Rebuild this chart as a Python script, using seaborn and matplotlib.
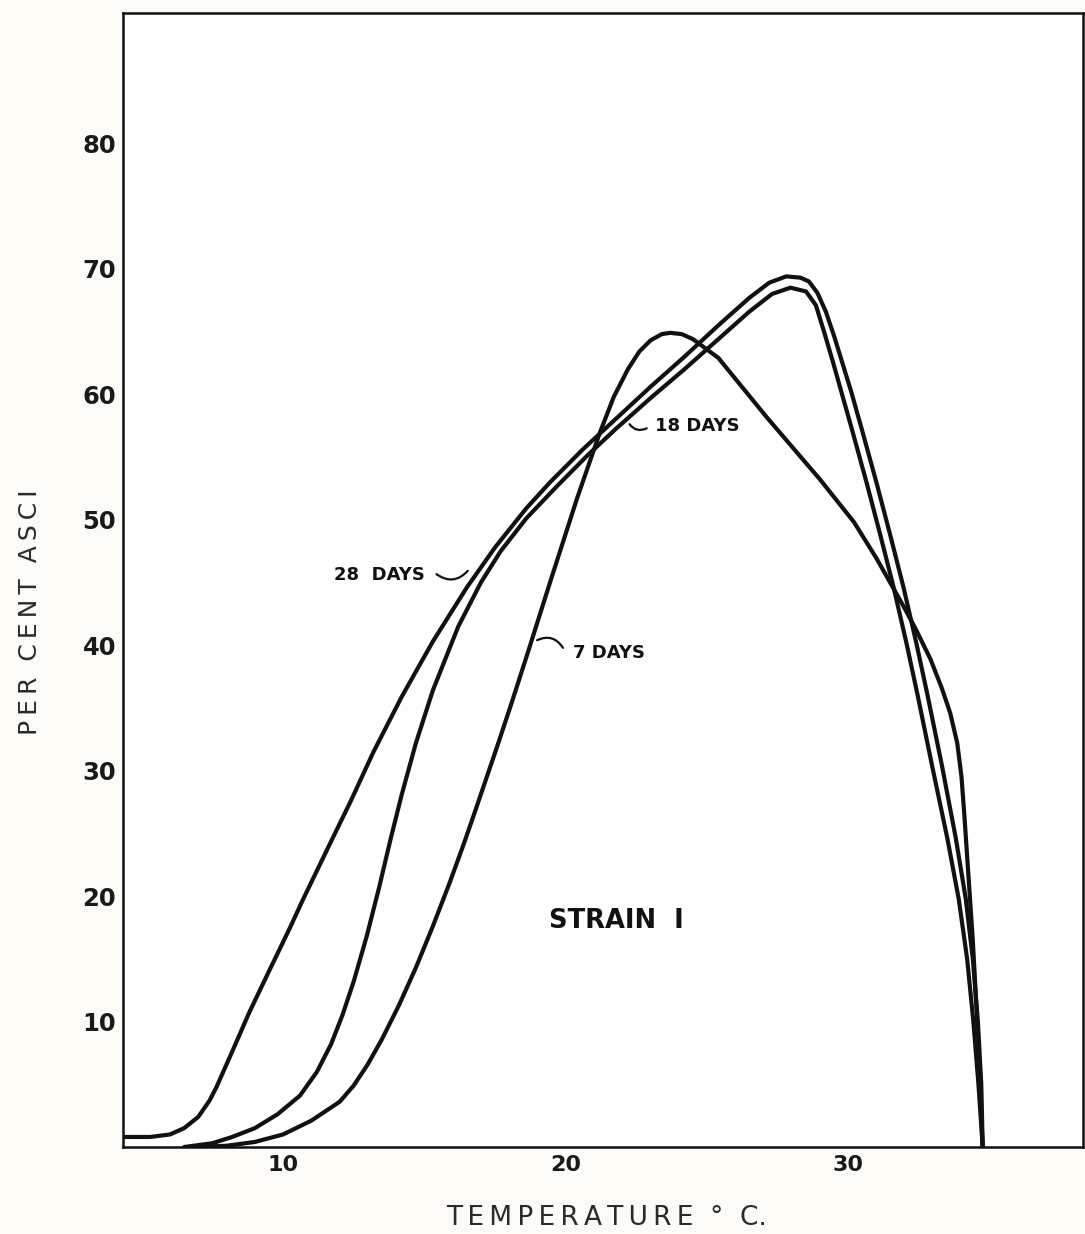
import matplotlib
matplotlib.use("Agg")
import matplotlib.pyplot as plt
import seaborn as sns
import pandas as pd

# ---- data (temperature °C, per cent asci) ----
temp_7 = [7.0, 8.0, 9.0, 10.0, 11.0, 12.0, 12.5, 13.0, 13.5, 14.1, 14.7, 15.3, 15.9, 16.4,
          16.8, 17.6, 18.1, 18.7, 19.5, 20.4, 21.2, 21.7, 22.2, 22.6, 23.0, 23.4, 23.7,
          24.1, 24.5, 25.4, 27.1, 29.0, 30.2, 31.0, 31.4, 31.95, 32.4, 32.9, 33.3, 33.6, 33.85,
          34.0, 34.1, 34.25, 34.4, 34.52, 34.63, 34.75]
pct_7 = [0.0, 0.1, 0.4, 1.0, 2.1, 3.6, 4.9, 6.6, 8.6, 11.3, 14.3, 17.6, 21.1, 24.2,
         26.8, 32.1, 35.5, 39.7, 45.4, 51.7, 56.9, 59.8, 62.0, 63.4, 64.3, 64.8, 64.9,
         64.8, 64.4, 62.9, 58.2, 53.2, 49.8, 46.9, 45.3, 43.1, 41.2, 38.9, 36.6, 34.6, 32.2,
         29.5, 26.5, 21.5, 16.5, 11.5, 6.5, 0.0]

temp_18 = [6.5, 7.5, 8.2, 9.0, 9.8, 10.6, 11.2, 11.7, 12.1, 12.5, 12.96, 13.4, 13.8, 14.2,
           14.7, 15.3, 16.2, 17.0, 17.7, 18.6, 19.7, 20.8, 21.8, 23.0, 24.2, 25.4, 26.5,
           27.3, 27.95, 28.5, 28.85, 29.15, 29.45, 29.75, 30.15, 30.65, 31.15, 31.6, 32.05,
           32.45, 32.95, 33.5, 33.9, 34.2, 34.42, 34.6, 34.75]
pct_18 = [0.0, 0.3, 0.8, 1.5, 2.6, 4.1, 6.0, 8.2, 10.5, 13.2, 16.8, 20.7, 24.5, 28.1,
          32.2, 36.4, 41.5, 45.0, 47.5, 50.1, 52.7, 55.2, 57.3, 59.7, 62.0, 64.4, 66.6,
          68.0, 68.5, 68.2, 67.1, 64.9, 62.6, 60.2, 57.0, 52.9, 48.6, 44.6, 40.2,
          36.0, 30.5, 24.6, 19.8, 15.0, 10.0, 5.0, 0.0]

temp_28 = [4.34, 5.3, 6.0, 6.5, 7.0, 7.4, 7.65, 8.2, 8.8, 9.5, 10.25, 10.7, 11.6, 12.4,
           13.2, 14.2, 15.3, 16.5, 17.5, 18.6, 19.45, 20.6, 21.8, 23.0, 24.2, 25.4, 26.5,
           27.2, 27.8, 28.3, 28.6, 28.9, 29.2, 29.5, 30.1, 30.5, 31.0, 31.5, 31.95, 32.4,
           32.8, 33.3, 33.8, 34.15, 34.4, 34.58, 34.7, 34.75]
pct_28 = [0.8, 0.8, 1.0, 1.5, 2.4, 3.7, 4.8, 7.6, 10.7, 14.0, 17.5, 19.7, 23.9, 27.6,
          31.5, 35.9, 40.3, 44.6, 47.8, 50.9, 53.0, 55.6, 58.1, 60.6, 63.0, 65.5, 67.7,
          68.9, 69.4, 69.3, 69.0, 68.1, 66.6, 64.6, 60.2, 57.0, 52.9, 48.6, 44.6, 40.2,
          36.0, 30.5, 24.6, 19.8, 15.0, 10.0, 5.0, 0.0]

series_names = ["7 DAYS", "18 DAYS", "28 DAYS"]
x_ticks = [10, 20, 30]
y_ticks = [10, 20, 30, 40, 50, 60, 70, 80]

df = pd.concat([
    pd.DataFrame({"temp": temp_7, "pct": pct_7, "series": series_names[0]}),
    pd.DataFrame({"temp": temp_18, "pct": pct_18, "series": series_names[1]}),
    pd.DataFrame({"temp": temp_28, "pct": pct_28, "series": series_names[2]}),
], ignore_index=True)

sns.set_style("white")
plt.rcParams["font.family"] = ["DejaVu Sans"]

fig = plt.figure(figsize=(10.85, 12.34), dpi=100, facecolor="#fcfbf6")
ax = fig.add_axes([0.1134, 0.0705, 0.8848, 0.919])
ax.set_facecolor("white")

sns.lineplot(data=df, x="temp", y="pct", units="series", estimator=None, sort=False,
             color="#111111", linewidth=3.0, ax=ax, legend=False)
for ln in ax.get_lines():
    ln.set_solid_joinstyle("round")
    ln.set_solid_capstyle("round")

ax.set_xlim(4.34, 38.3)
ax.set_ylim(0, 90.4)
ax.set_xticks(x_ticks)
ax.set_yticks(y_ticks)
ax.set_xticklabels([str(v) for v in x_ticks], fontsize=16, fontweight="bold", color="#1a1a1a")
ax.set_yticklabels([str(v) for v in y_ticks], fontsize=17.5, fontweight="bold", color="#1a1a1a")
ax.tick_params(axis="both", direction="in", length=9, width=1.8, color="#111111")
ax.tick_params(axis="y", pad=5)
ax.tick_params(axis="x", pad=6)

for s in ax.spines.values():
    s.set_visible(True)
    s.set_color("#111111")
    s.set_linewidth(1.8)

ax.set_xlabel("")
ax.set_ylabel("")
thin = "\u2009"
xlab = thin.join("TEMPERATURE") + "  °  C."
ylab = thin.join("PER") + "  " + thin.join("CENT") + "  " + thin.join("ASCI")
ax.text(0.504, -0.0626, xlab, transform=ax.transAxes, fontsize=19, color="#2a2a2a",
        ha="center", va="center")
ax.text(-0.097, 0.472, ylab, transform=ax.transAxes, fontsize=18, color="#2a2a2a",
        ha="center", va="center", rotation=90)

lab_kw = dict(fontsize=13, fontweight="bold", color="#111111", va="center", ha="left")

ax.text(11.8, 45.6, "28  DAYS", **lab_kw)
ax.annotate("", xy=(16.6, 46.1), xytext=(15.35, 45.8),
            arrowprops=dict(arrowstyle="-", color="#111111", lw=1.6,
                            connectionstyle="arc3,rad=0.5"))
ax.text(23.15, 57.5, "18 DAYS", **lab_kw)
ax.annotate("", xy=(22.2, 57.8), xytext=(22.95, 57.4),
            arrowprops=dict(arrowstyle="-", color="#111111", lw=1.6,
                            connectionstyle="arc3,rad=-0.5"))
ax.text(20.25, 39.4, "7 DAYS", **lab_kw)
ax.annotate("", xy=(18.9, 40.3), xytext=(19.95, 39.6),
            arrowprops=dict(arrowstyle="-", color="#111111", lw=1.6,
                            connectionstyle="arc3,rad=0.5"))

ax.text(19.4, 18.0, "STRAIN  I", fontsize=18.5, fontweight="bold", color="#111111",
        ha="left", va="center")

fig.savefig("out.png", dpi=100, facecolor=fig.get_facecolor())
